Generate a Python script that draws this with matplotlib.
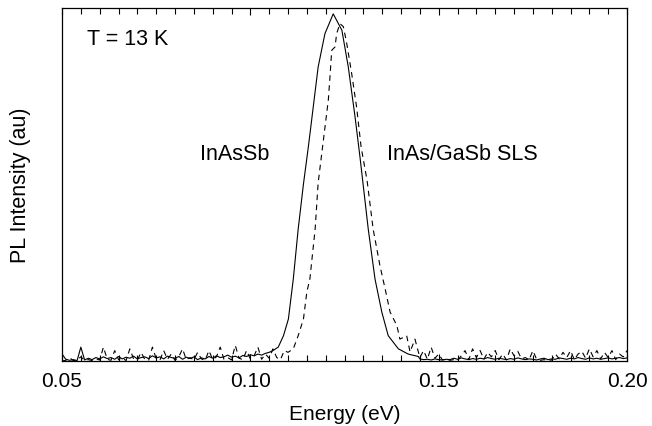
import numpy as np
import matplotlib
matplotlib.use("Agg")
import matplotlib.pyplot as plt
from matplotlib.ticker import MultipleLocator

plt.rcParams["font.family"] = ["Liberation Sans", "DejaVu Sans"]

# InAsSb (solid): baseline noise, peak, tail noise
inassb_noise_left = [0.020, 0.005, 0.002, 0.004, 0.001, 0.040, 0.003, 0.008, 0.004, 0.010,
                     0.006, 0.012, 0.007, 0.010, 0.005, 0.013, 0.006, 0.011, 0.008, 0.014,
                     0.006, 0.010, 0.012, 0.007, 0.015, 0.009, 0.012, 0.006, 0.014, 0.010,
                     0.008, 0.013, 0.005, 0.011, 0.007, 0.012, 0.004, 0.009, 0.006, 0.013,
                     0.008, 0.015, 0.010, 0.012, 0.017, 0.011, 0.014, 0.009, 0.016, 0.013,
                     0.018, 0.015, 0.020, 0.017, 0.022, 0.025, 0.030]
inassb_peak_e = [0.1074, 0.1088, 0.1101, 0.1114, 0.1127, 0.1141, 0.1154, 0.1167, 0.1180,
                 0.1198, 0.1220, 0.1243, 0.1260, 0.1278, 0.1291, 0.1313, 0.1331, 0.1349,
                 0.1366, 0.1393, 0.1419, 0.1446]
inassb_peak_i = [0.040, 0.073, 0.121, 0.236, 0.380, 0.510, 0.617, 0.732, 0.847,
                 0.943, 1.000, 0.953, 0.847, 0.703, 0.588, 0.380, 0.236, 0.141,
                 0.073, 0.035, 0.020, 0.013]
inassb_noise_right = [0.006, 0.004, 0.005, 0.003, 0.006, 0.004, 0.003, 0.005, 0.004, 0.008,
                      0.005, 0.009, 0.006, 0.004, 0.007, 0.005, 0.008, 0.006, 0.010, 0.007,
                      0.005, 0.008, 0.006, 0.004, 0.007, 0.005, 0.009, 0.006, 0.004, 0.006,
                      0.005, 0.003, 0.006, 0.008, 0.004, 0.006, 0.005, 0.009, 0.007, 0.005,
                      0.008, 0.006, 0.010, 0.007, 0.005, 0.009, 0.006, 0.008, 0.005, 0.007,
                      0.009, 0.006, 0.008, 0.010, 0.007, 0.009]

# InAs/GaSb SLS (dashed)
sls_noise_left = [0.000, 0.002, 0.010, 0.001, 0.003, 0.012, 0.002, 0.004, 0.001, 0.006,
                  0.003, 0.040, 0.005, 0.002, 0.030, 0.004, 0.010, 0.001, 0.035, 0.006,
                  0.003, 0.025, 0.004, 0.002, 0.040, 0.007, 0.003, 0.030, 0.005, 0.020,
                  0.002, 0.012, 0.035, 0.004, 0.010, 0.003, 0.025, 0.006, 0.002, 0.030,
                  0.004, 0.012, 0.040, 0.005, 0.010, 0.003, 0.045, 0.008, 0.004, 0.030,
                  0.006, 0.015, 0.040, 0.005, 0.020, 0.008, 0.035, 0.010, 0.004, 0.030,
                  0.025]
sls_peak_e = [0.1114, 0.1127, 0.1141, 0.1150, 0.1158, 0.1172, 0.1180, 0.1194, 0.1207,
              0.1212, 0.1216, 0.1225, 0.1229, 0.1238, 0.1247, 0.1256, 0.1269, 0.1282,
              0.1294, 0.1310, 0.1326, 0.1344, 0.1358, 0.1371, 0.1389, 0.1397, 0.1415,
              0.1424, 0.1437]
sls_peak_i = [0.035, 0.073, 0.121, 0.199, 0.236, 0.380, 0.513, 0.637, 0.752,
              0.828, 0.895, 0.905, 0.943, 0.972, 0.963, 0.914, 0.828, 0.732,
              0.617, 0.519, 0.380, 0.275, 0.207, 0.141, 0.102, 0.063, 0.073,
              0.026, 0.063]
sls_noise_right = [0.010, 0.030, 0.005, 0.040, 0.008, 0.020, 0.003, 0.006, 0.002, 0.004,
                   0.001, 0.015, 0.030, 0.004, 0.035, 0.010, 0.030, 0.005, 0.025, 0.012,
                   0.030, 0.004, 0.020, 0.003, 0.035, 0.015, 0.028, 0.006, 0.010, 0.003,
                   0.030, 0.005, 0.002, 0.004, 0.001, 0.003, 0.020, 0.006, 0.025, 0.010,
                   0.030, 0.004, 0.020, 0.028, 0.008, 0.035, 0.012, 0.030, 0.006, 0.025,
                   0.010, 0.030, 0.004, 0.020, 0.012, 0.030]

inassb_e = np.concatenate([np.arange(len(inassb_noise_left)) * 0.001 + 0.050, inassb_peak_e,
                           np.arange(len(inassb_noise_right)) * 0.001 + 0.145])
inassb_i = np.concatenate([inassb_noise_left, inassb_peak_i, inassb_noise_right])
sls_e = np.concatenate([np.arange(len(sls_noise_left)) * 0.001 + 0.050, sls_peak_e,
                        np.arange(len(sls_noise_right)) * 0.001 + 0.145])
sls_i = np.concatenate([sls_noise_left, sls_peak_i, sls_noise_right])

fig = plt.figure(figsize=(6.52, 4.27), dpi=100)
ax = fig.add_axes([0.0951, 0.1522, 0.8666, 0.8268])
ax.plot(inassb_e, inassb_i, color="black", lw=0.8)
ax.plot(sls_e, sls_i, color="black", lw=0.8, linestyle=(0, (5, 4)))

ax.set_xlim(0.05, 0.20)
ax.set_ylim(0, 1.017)
ax.xaxis.set_minor_locator(MultipleLocator(0.005))
ax.set_xticks([0.05, 0.10, 0.15, 0.20])
ax.set_xticklabels(["0.05", "0.10", "0.15", "0.20"])
ax.tick_params(axis="x", which="both", direction="in", top=True, labelsize=15, pad=7)
ax.tick_params(axis="x", which="major", length=5, width=0.8)
ax.tick_params(axis="x", which="minor", length=4, width=0.8)
ax.set_yticks([])
for sp in ax.spines.values():
    sp.set_linewidth(0.9)

ax.text(0.0566, 0.93, "T = 13 K", fontsize=15.5, va="center", ha="left")
ax.text(0.0866, 0.597, "InAsSb", fontsize=15.5, va="center", ha="left")
ax.text(0.1363, 0.597, "InAs/GaSb SLS", fontsize=15.5, va="center", ha="left")

ax.set_xlabel("Energy (eV)", fontsize=15, labelpad=10)
ax.set_ylabel("PL Intensity (au)", fontsize=15.5, labelpad=22)

fig.savefig("out.png", dpi=100)
